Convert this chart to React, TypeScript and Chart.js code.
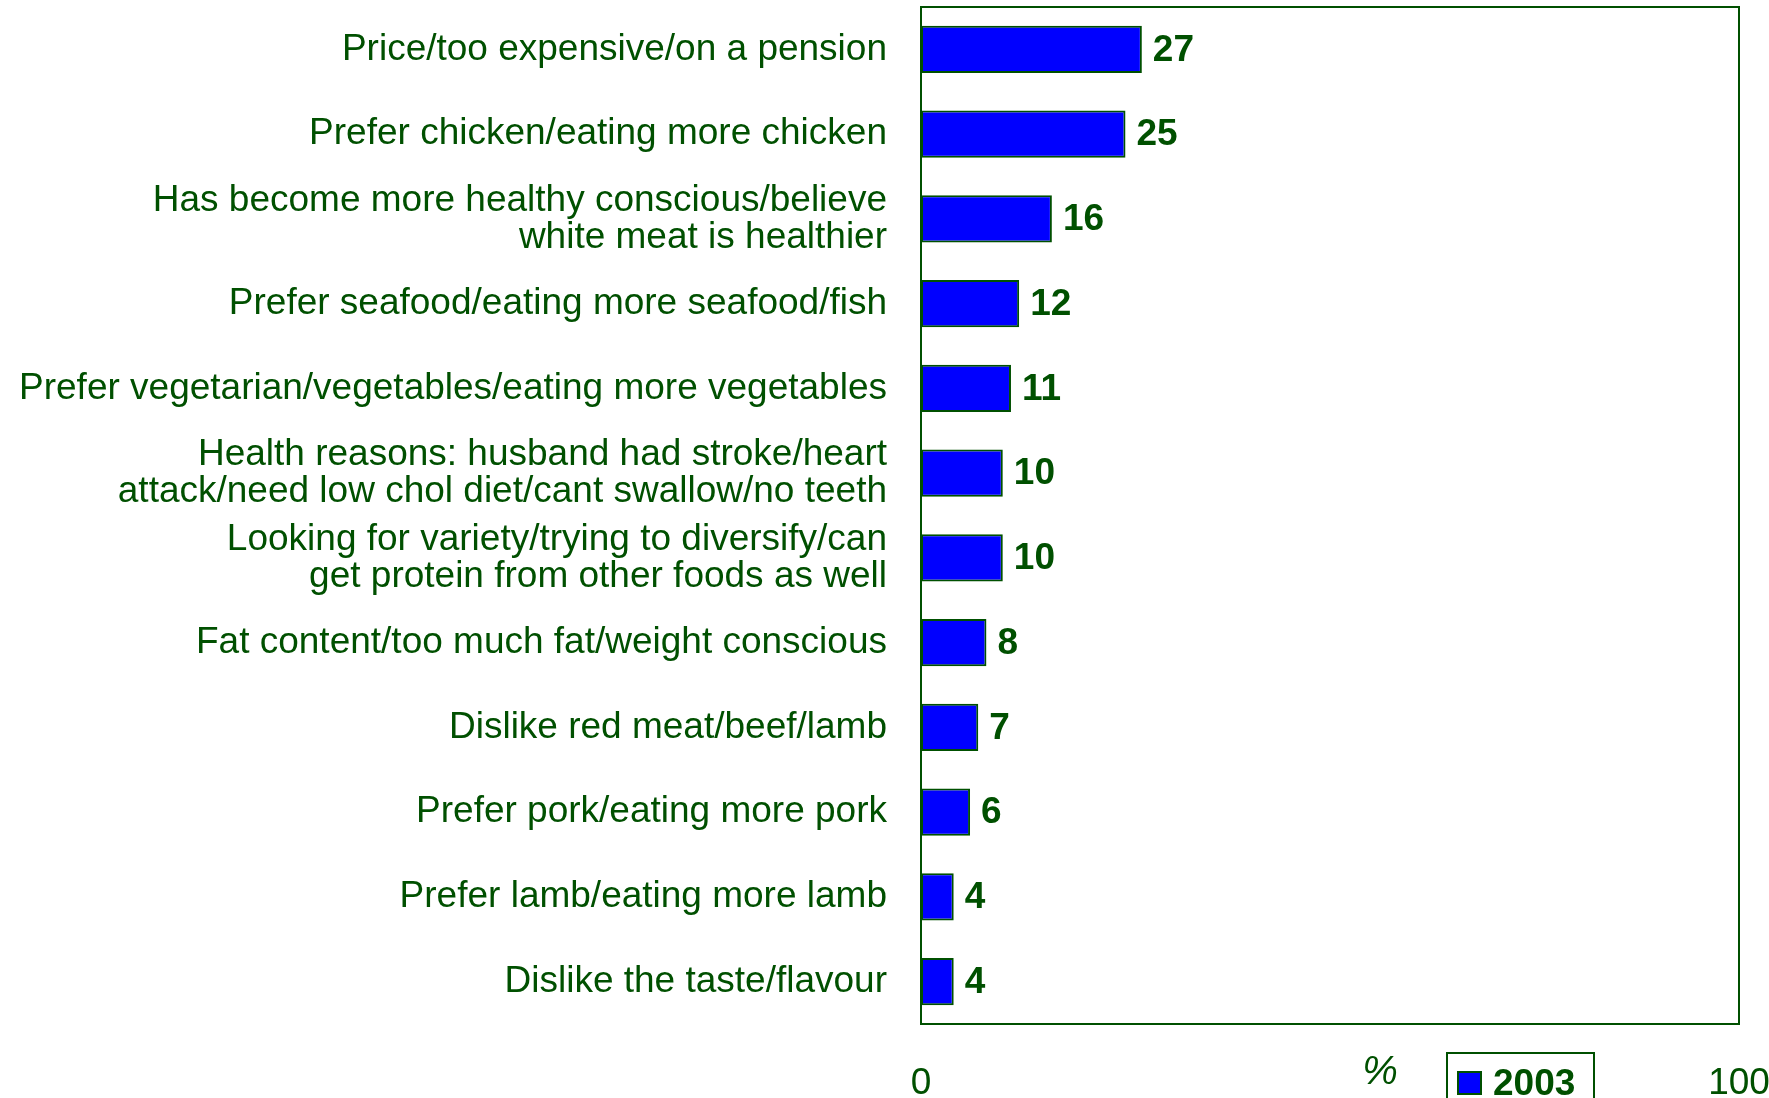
import React, { useEffect, useRef } from "react";
import { Chart, registerables } from "chart.js";

Chart.register(...registerables);

const categories: (string | string[])[] = [
  "Price/too expensive/on a pension",
  "Prefer chicken/eating more chicken",
  ["Has become more healthy conscious/believe", "white meat is healthier"],
  "Prefer seafood/eating more seafood/fish",
  "Prefer vegetarian/vegetables/eating more vegetables",
  ["Health reasons: husband had stroke/heart", "attack/need low chol diet/cant swallow/no teeth"],
  ["Looking for variety/trying to diversify/can", "get protein from other foods as well"],
  "Fat content/too much fat/weight conscious",
  "Dislike red meat/beef/lamb",
  "Prefer pork/eating more pork",
  "Prefer lamb/eating more lamb",
  "Dislike the taste/flavour",
];

const values2003: number[] = [27, 25, 16, 12, 11, 10, 10, 8, 7, 6, 4, 4];
const seriesLabel = "2003";
const xTicks: number[] = [0, 100];
const axisUnit = "%";

const GREEN = "#005000";
const BLUE = "#0000FF";
const FONT = "Arial, 'Liberation Sans', sans-serif";

const extrasPlugin = {
  id: "extras",
  afterDatasetsDraw(chart: any) {
    const ctx = chart.ctx;
    const area = chart.chartArea;
    ctx.save();
    // frame
    ctx.strokeStyle = GREEN;
    ctx.lineWidth = 2;
    ctx.strokeRect(area.left, area.top, area.right - area.left, area.bottom - area.top);
    // value labels
    const meta = chart.getDatasetMeta(0);
    ctx.fillStyle = GREEN;
    ctx.font = `bold 37px ${FONT}`;
    ctx.textAlign = "left";
    ctx.textBaseline = "middle";
    meta.data.forEach((bar: any, i: number) => {
      ctx.fillText(String(chart.data.datasets[0].data[i]), bar.x + 11, bar.y + 1);
    });
    // unit
    ctx.font = `italic 40px ${FONT}`;
    ctx.textAlign = "center";
    ctx.textBaseline = "alphabetic";
    ctx.fillText(axisUnit, 1380, 1084);
    // legend
    ctx.lineWidth = 2;
    ctx.strokeRect(1447, 1053, 147, 60);
    ctx.fillStyle = BLUE;
    ctx.fillRect(1458, 1072, 23, 22);
    ctx.strokeRect(1458, 1072, 23, 22);
    ctx.fillStyle = GREEN;
    ctx.font = `bold 37px ${FONT}`;
    ctx.textAlign = "left";
    ctx.fillText(chart.data.datasets[0].label, 1493, 1095);
    ctx.restore();
  },
};

export default function App() {
  const ref = useRef<HTMLCanvasElement | null>(null);
  useEffect(() => {
    if (!ref.current) return;
    const chart = new Chart(ref.current, {
      type: "bar",
      data: {
        labels: categories,
        datasets: [
          {
            label: seriesLabel,
            data: values2003,
            backgroundColor: BLUE,
            borderColor: GREEN,
            borderWidth: 2,
            borderSkipped: false,
            barPercentage: 0.555,
            categoryPercentage: 1,
          },
        ],
      },
      options: {
        indexAxis: "y",
        animation: false,
        responsive: true,
        maintainAspectRatio: false,
        layout: { padding: { top: 7, right: 30, left: 0, bottom: 0 } },
        plugins: {
          legend: { display: false },
          tooltip: { enabled: false },
          title: { display: false },
        },
        scales: {
          x: {
            min: xTicks[0],
            max: xTicks[1],
            afterBuildTicks: (scale: any) => {
              scale.ticks = xTicks.map((v) => ({ value: v }));
            },
            afterFit: (scale: any) => {
              scale.height = 74;
              scale.paddingLeft = 0;
              scale.paddingRight = 0;
              scale.paddingTop = 0;
              scale.paddingBottom = 0;
            },
            grid: { display: false, drawTicks: false },
            border: { display: false },
            ticks: {
              padding: 38,
              color: GREEN,
              font: { family: FONT, size: 37 },
              maxRotation: 0,
              autoSkip: false,
            },
          },
          y: {
            afterFit: (scale: any) => {
              scale.width = 921;
              scale.paddingLeft = 0;
              scale.paddingRight = 0;
              scale.paddingTop = 0;
              scale.paddingBottom = 0;
            },
            grid: { display: false, drawTicks: false },
            border: { display: false },
            ticks: {
              padding: 34,
              color: GREEN,
              autoSkip: false,
              font: { family: FONT, size: 37, lineHeight: 1.0 },
            },
          },
        },
      },
      plugins: [extrasPlugin],
    });
    return () => chart.destroy();
  }, []);
  return (
    <div style={{ position: "fixed", left: 0, top: 0, width: 1769, height: 1098, background: "#fff" }}>
      <canvas ref={ref} />
    </div>
  );
}
